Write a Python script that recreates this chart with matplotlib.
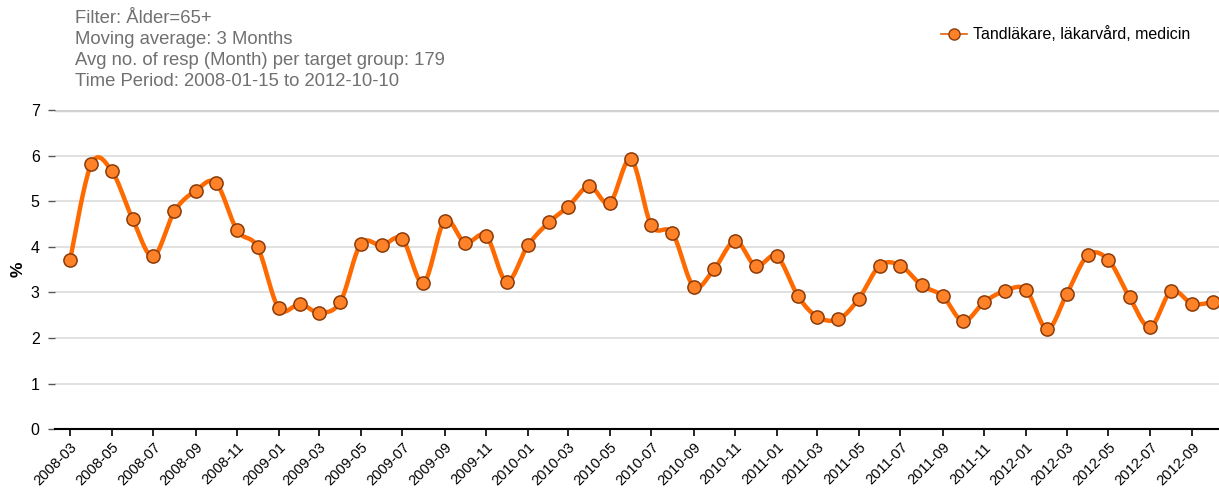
import numpy as np
import matplotlib
matplotlib.use("Agg")
import matplotlib.pyplot as plt
import matplotlib.dates as mdates
from datetime import date

plt.rcParams['font.family'] = ['Liberation Sans', 'DejaVu Sans']

# monthly values, 2008-03 .. 2012-10
months = [date(2008 + (m - 1) // 12, (m - 1) % 12 + 1, 1) for m in range(3, 3 + 56)]
values = [3.71, 5.81, 5.67, 4.60, 3.79, 4.78, 5.23, 5.40, 4.36, 3.99,
          2.65, 2.75, 2.56, 2.79, 4.06, 4.03, 4.17, 3.21, 4.57, 4.09,
          4.24, 3.24, 4.03, 4.54, 4.88, 5.33, 4.96, 5.92, 4.47, 4.30,
          3.13, 3.51, 4.13, 3.58, 3.79, 2.92, 2.47, 2.41, 2.86, 3.59,
          3.59, 3.16, 2.92, 2.37, 2.79, 3.03, 3.06, 2.20, 2.97, 3.82,
          3.71, 2.89, 2.24, 3.03, 2.75, 2.79]
series_name = "Tandläkare, läkarvård, medicin"
header = ["Filter: Ålder=65+",
          "Moving average: 3 Months",
          "Avg no. of resp (Month) per target group: 179",
          "Time Period: 2008-01-15 to 2012-10-10"]

x = mdates.date2num(months)
y = np.array(values)


def smooth(xs, ys, steps=20):
    # catmull-rom style curve through the points, only for drawing the line
    px, py = [], []
    n = len(xs)
    for i in range(n - 1):
        x0, y0 = xs[max(i - 1, 0)], ys[max(i - 1, 0)]
        x1, y1 = xs[i], ys[i]
        x2, y2 = xs[i + 1], ys[i + 1]
        x3, y3 = xs[min(i + 2, n - 1)], ys[min(i + 2, n - 1)]
        t = np.linspace(0, 1, steps, endpoint=False)
        mx1, my1 = (x2 - x0) / 2, (y2 - y0) / 2
        mx2, my2 = (x3 - x1) / 2, (y3 - y1) / 2
        h00 = 2 * t**3 - 3 * t**2 + 1
        h10 = t**3 - 2 * t**2 + t
        h01 = -2 * t**3 + 3 * t**2
        h11 = t**3 - t**2
        px.extend(h00 * x1 + h10 * mx1 + h01 * x2 + h11 * mx2)
        py.extend(h00 * y1 + h10 * my1 + h01 * y2 + h11 * my2)
    px.append(xs[-1])
    py.append(ys[-1])
    return np.array(px), np.array(py)


fig = plt.figure(figsize=(12.19, 4.96), dpi=100)
ax = fig.add_axes([55 / 1219, 1 - 429.3 / 496, 1 - 55 / 1219, (429.3 - 110) / 496])

sx, sy = smooth(x, y)
ax.plot(sx, sy, color='#ff6a00', lw=3.2, solid_capstyle='round', zorder=3)
ax.plot(x, y, 'o', ms=9.5, mfc='#ff8229', mec='#8a3b08', mew=1.1, zorder=4)

ax.set_ylim(0, 7)
ax.set_xlim(x[0] - 22, x[-1] + 9)
ax.set_yticks(range(0, 8))
for v in range(1, 7):
    ax.axhline(v, color='#dcdcdc', lw=1.2, zorder=1)
ax.axhline(7, color='#d0d0d0', lw=2.5, zorder=1)

ax.set_xticks(x[::2])
ax.set_xticklabels([d.strftime('%Y-%m') for d in months[::2]], rotation=45,
                   ha='right', rotation_mode='anchor', fontsize=10.5)
ax.tick_params(axis='x', length=5, width=1.2, color='black', pad=3)
ax.tick_params(axis='y', length=5, width=1, color='#555555', labelsize=11.5, pad=6)

for s in ['left', 'right', 'top']:
    ax.spines[s].set_visible(False)
ax.spines['bottom'].set_linewidth(1.5)

ax.set_ylabel('%', fontsize=12.5, fontweight='bold', labelpad=4)

fig.text(75 / 1219, 1 - 10 / 496, "\n".join(header), ha='left', va='top',
         fontsize=13.3, color='#707070', linespacing=1.31)

handle = plt.Line2D([], [], color='#e0620a', lw=1.2, marker='o', ms=8,
                    mfc='#ff8229', mec='#8a3b08')
fig.legend([handle], [series_name], loc='upper right',
           bbox_to_anchor=(1 - 14 / 1219, 1 - 12 / 496), frameon=False,
           fontsize=11.5, handlelength=1.6, handletextpad=0.4)

fig.savefig('out.png', dpi=100)
